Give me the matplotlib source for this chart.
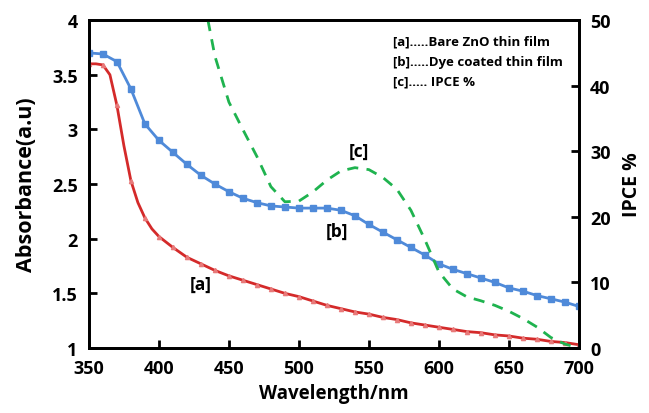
import matplotlib.pyplot as plt

# wavelength grid (nm)
wl = list(range(350, 701, 10))

# [a] bare ZnO thin film absorbance (finer steps on the absorption edge)
bare_wl = [350, 355, 360, 365, 370, 375, 380, 385, 390, 395] + list(range(400, 701, 10))
bare_zno = [3.60, 3.60, 3.59, 3.50, 3.22, 2.85, 2.53, 2.33, 2.19, 2.09,
            2.02, 1.92, 1.83, 1.77, 1.71,
            1.66, 1.62, 1.58, 1.54, 1.50, 1.47, 1.43, 1.39, 1.36, 1.33,
            1.31, 1.28, 1.26, 1.23, 1.21, 1.19, 1.17, 1.15, 1.14, 1.12,
            1.11, 1.09, 1.08, 1.06, 1.05, 1.03]

# [b] dye coated thin film absorbance
dye_coated = [3.70, 3.69, 3.62, 3.37, 3.05, 2.90, 2.79, 2.68, 2.58, 2.50,
              2.43, 2.37, 2.33, 2.30, 2.29, 2.28, 2.28, 2.28, 2.26, 2.21,
              2.13, 2.06, 1.99, 1.92, 1.85, 1.77, 1.72, 1.68, 1.64, 1.60,
              1.55, 1.52, 1.48, 1.45, 1.42, 1.38]

# [c] IPCE %
ipce_wl = [435, 440, 450, 460, 470, 480, 490, 500, 510, 520, 530, 540, 550,
           560, 570, 580, 590, 600, 610, 620, 630, 640, 650, 660, 670, 680,
           690, 700]
ipce = [50.0, 44.5, 37.5, 33.3, 29.2, 24.6, 22.3, 22.4, 23.8, 25.6, 27.0,
        27.5, 27.2, 26.0, 24.2, 21.0, 16.5, 11.6, 9.0, 7.8, 7.2, 6.5, 5.6,
        4.5, 3.2, 1.6, 0.6, 0.0]

plt.rcParams["font.family"] = ["Open Sans", "DejaVu Sans"]
plt.rcParams["font.weight"] = "bold"

fig = plt.figure(figsize=(6.49, 4.14), dpi=100)
ax = fig.add_axes([0.137, 0.157, 0.755, 0.792])
ax2 = ax.twinx()

red_marks = [i for i, w in enumerate(bare_wl) if w % 10 == 0]
ax.plot(bare_wl, bare_zno, color="#d42a2a", lw=2, marker="^", ms=3,
        mfc="#e87a7a", mec="#e87a7a", markevery=red_marks, zorder=3)
ax.plot(wl, dye_coated, color="#4f8ad9", lw=2, marker="s", ms=4.5,
        mfc="#4f8ad9", mec="#4f8ad9", zorder=3)
ax2.plot(ipce_wl, ipce, color="#1fb34f", lw=2, ls=(0, (4, 3)))

ax.set_xlim(350, 700)
ax.set_ylim(1, 4)
ax2.set_ylim(0, 50)
ax.set_xticks(range(350, 701, 50))
ax.set_yticks([1, 1.5, 2, 2.5, 3, 3.5, 4])
ax.set_yticklabels(["1", "1.5", "2", "2.5", "3", "3.5", "4"])
ax2.set_yticks(range(0, 51, 10))

for a in (ax, ax2):
    a.tick_params(direction="in", length=6, width=2, labelsize=13, pad=8)
    for s in a.spines.values():
        s.set_linewidth(2)
        s.set_color("black")

ax.set_xlabel("Wavelength/nm", fontsize=13.5, fontweight="bold", labelpad=4)
ax.set_ylabel("Absorbance(a.u)", fontsize=15.5, fontweight="bold", labelpad=11)
ax2.set_ylabel("IPCE %", fontsize=14, fontweight="bold", labelpad=8)

ax.text(430, 1.585, "[a]", fontsize=12.5, fontweight="bold", ha="center", va="center")
ax.text(527, 2.07, "[b]", fontsize=12.5, fontweight="bold", ha="center", va="center")
ax.text(543, 2.80, "[c]", fontsize=12.5, fontweight="bold", ha="center", va="center")

legend_lines = ["[a].....Bare ZnO thin film",
                "[b].....Dye coated thin film",
                "[c]..... IPCE %"]
for i, t in enumerate(legend_lines):
    ax.text(0.62, 0.936 - i * 0.061, t, transform=ax.transAxes,
            fontsize=9.5, fontweight="bold", va="center", ha="left")

fig.savefig("out.png", dpi=100)
